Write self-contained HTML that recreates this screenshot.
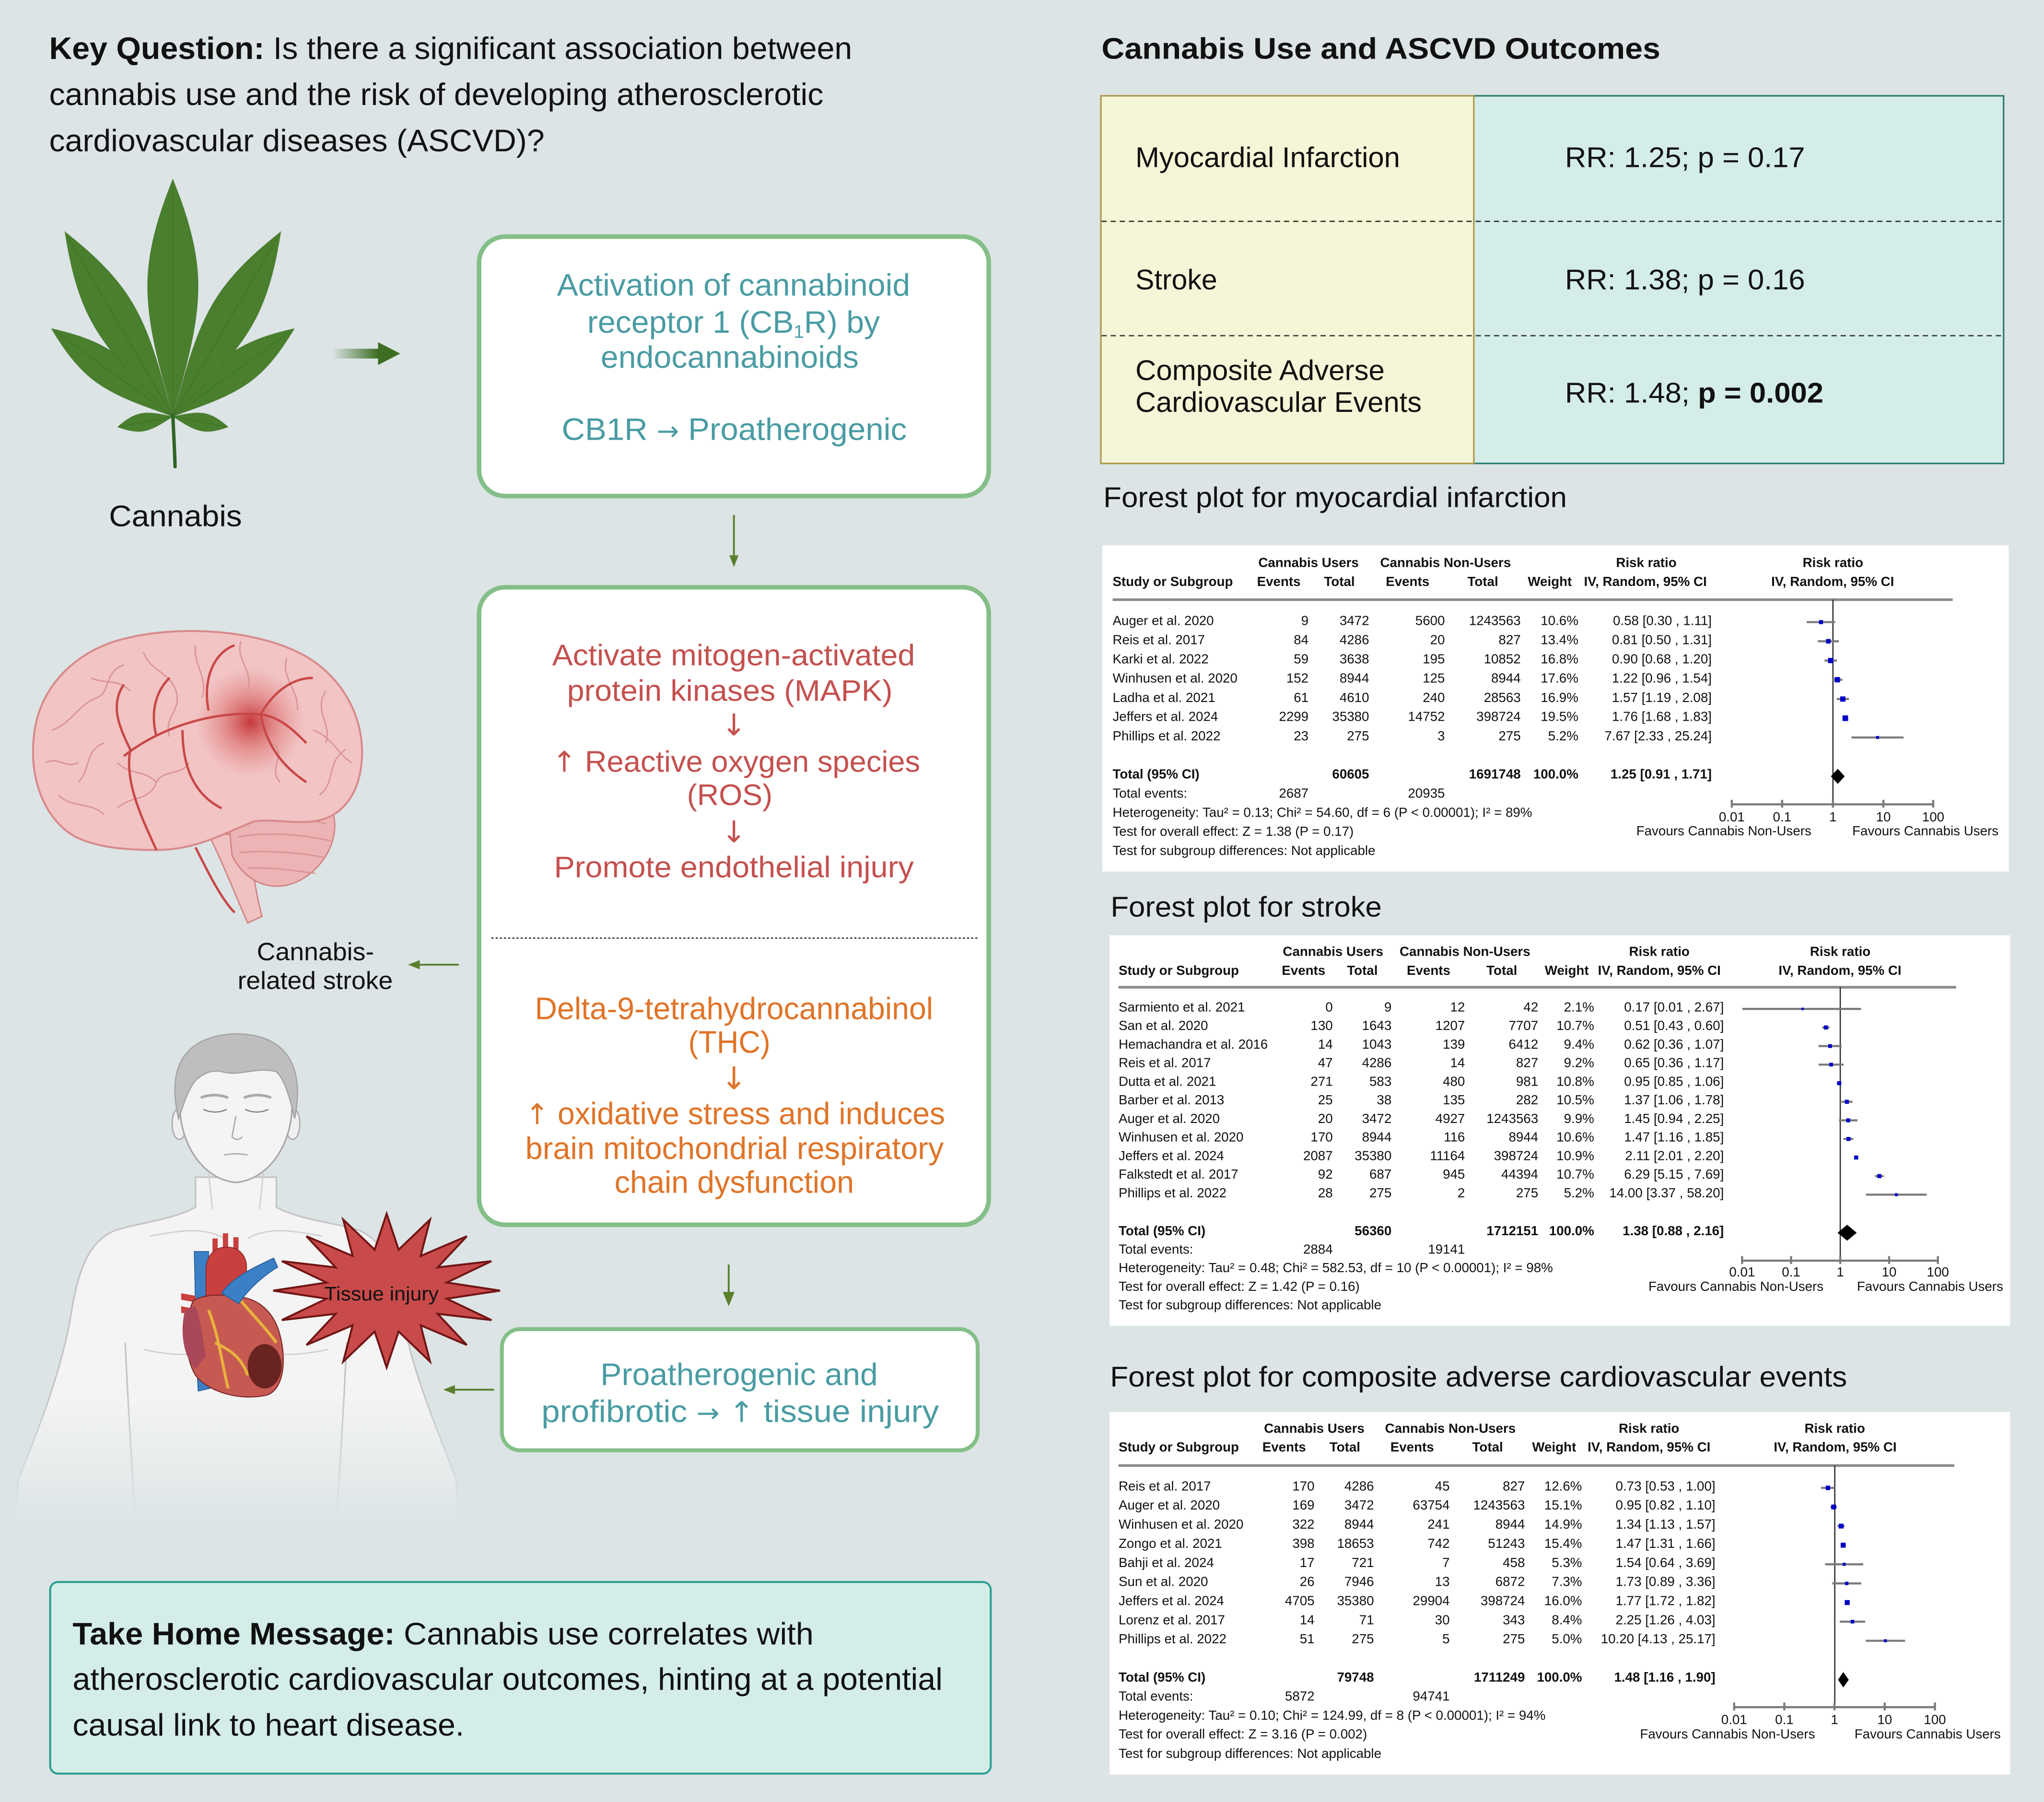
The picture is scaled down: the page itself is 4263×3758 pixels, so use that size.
<!DOCTYPE html>
<html><head><meta charset="utf-8">
<style>
html,body{margin:0;padding:0;background:#dce4e5;width:4263px;height:3758px;overflow:hidden}
svg{display:block;font-family:"Liberation Sans",Arial,sans-serif}
.t{font-size:10.2px;fill:#111}
.b{font-weight:bold}
.r{text-anchor:end}
.c{text-anchor:middle}
.ci{stroke:#7a7a7a;stroke-width:1.6;fill:none}
.sq{fill:#0000c8}
.ax{stroke:#7a7a7a;stroke-width:1.6;fill:none}
.vl{stroke:#222;stroke-width:0.9}
.hl{stroke:#8a8a8a;stroke-width:2}
.tl{fill:#4a9ca3;font-size:24px}
.rd{fill:#c4504e;font-size:23px}
.og{fill:#e07428;font-size:24px}
.gy{stroke:#d99393;stroke-width:1;fill:none}
.vs{stroke:#c84848;stroke-width:1.8;fill:none}
.arr{stroke:#5a7f2c;stroke-width:1.4;fill:none}
.ah{fill:#5a7f2c}
.dj{font-family:"DejaVu Sans",sans-serif}
</style></head>
<body>
<svg width="4263" height="3758" viewBox="0 0 1568 1382.26" preserveAspectRatio="none" xmlns="http://www.w3.org/2000/svg">
<defs>
<radialGradient id="glow" cx="0.5" cy="0.5" r="0.5">
<stop offset="0" stop-color="#c0282a" stop-opacity="0.9"/>
<stop offset="0.5" stop-color="#d45555" stop-opacity="0.45"/>
<stop offset="1" stop-color="#e07070" stop-opacity="0"/>
</radialGradient>
<linearGradient id="arrg" x1="255" y1="0" x2="290" y2="0" gradientUnits="userSpaceOnUse">
<stop offset="0" stop-color="#3d6e22" stop-opacity="0"/>
<stop offset="1" stop-color="#3d6e22"/>
</linearGradient>
<linearGradient id="bodyf" x1="0" y1="1070" x2="0" y2="1172" gradientUnits="userSpaceOnUse">
<stop offset="0" stop-color="#f4f4f4"/>
<stop offset="1" stop-color="#dce4e5"/>
</linearGradient>
<linearGradient id="bodys" x1="0" y1="1060" x2="0" y2="1160" gradientUnits="userSpaceOnUse">
<stop offset="0" stop-color="#c4c4c4"/>
<stop offset="1" stop-color="#dce4e5"/>
</linearGradient>
<g id="lf">
<path d="M0,0 C0.15,-0.15 0.45,-0.35 0.45,-0.55 C0.45,-0.72 0.2,-0.88 0,-1 C-0.2,-0.88 -0.45,-0.72 -0.45,-0.55 C-0.45,-0.35 -0.15,-0.15 0,0 Z" fill="#4a7f2d" stroke="#3a6a22" stroke-width="1.2" stroke-dasharray="2.2,1.2" vector-effect="non-scaling-stroke"/>
<path d="M0,0 L0,-0.97" stroke="#2f6a28" stroke-width="0.9" vector-effect="non-scaling-stroke"/>
</g>
</defs>

<rect x="0" y="0" width="1568" height="1382.26" fill="#dce4e5"/>

<!-- Key question -->
<text x="37.7" y="45.3" font-size="24" fill="#111" textLength="616" lengthAdjust="spacingAndGlyphs"><tspan font-weight="bold">Key Question:</tspan> Is there a significant association between</text>
<text x="37.7" y="80.5" font-size="24" fill="#111" textLength="594" lengthAdjust="spacingAndGlyphs">cannabis use and the risk of developing atherosclerotic</text>
<text x="37.7" y="116" font-size="24" fill="#111" textLength="380" lengthAdjust="spacingAndGlyphs">cardiovascular diseases (ASCVD)?</text>

<!-- Leaf -->
<g>
<path d="M132.6,318 C133,330 134,345 134.3,358" stroke="#2f6325" stroke-width="2.6" fill="none" stroke-linecap="round"/>
<use href="#lf" transform="translate(132.6,319.5) rotate(-100.7) scale(15,43)"/>
<use href="#lf" transform="translate(132.6,319.5) rotate(100.7) scale(15,43)"/>
<use href="#lf" transform="translate(132.6,319.5) rotate(-54.1) scale(29,115)"/>
<use href="#lf" transform="translate(132.6,319.5) rotate(54.1) scale(29,115)"/>
<use href="#lf" transform="translate(132.6,319.5) rotate(-30.3) scale(38,164)"/>
<use href="#lf" transform="translate(132.6,319.5) rotate(30.3) scale(38,164)"/>
<use href="#lf" transform="translate(132.6,319.5) rotate(0) scale(43,182)"/>
</g>
<text x="83.6" y="403.7" font-size="23" fill="#111" textLength="102" lengthAdjust="spacingAndGlyphs">Cannabis</text>

<!-- arrow leaf -> box1 -->
<rect x="255" y="267.5" width="37" height="7.5" fill="url(#arrg)"/>
<polygon points="290,262.5 307,271.2 290,280" fill="#3d6e22"/>

<!-- Box 1 -->
<rect x="367.5" y="181.5" width="391" height="199" rx="20" fill="#fff" stroke="#84bf88" stroke-width="3.5"/>
<text class="tl" x="427.2" y="226.8" textLength="271" lengthAdjust="spacingAndGlyphs">Activation of cannabinoid</text>
<text class="tl" x="450.5" y="255.2" textLength="224.5" lengthAdjust="spacingAndGlyphs">receptor 1 (CB<tspan font-size="14" dy="4">1</tspan><tspan dy="-4">R) by</tspan></text>
<text class="tl" x="460.8" y="282.2" textLength="198" lengthAdjust="spacingAndGlyphs">endocannabinoids</text>
<text class="tl" x="430.9" y="337.5" textLength="264.7" lengthAdjust="spacingAndGlyphs">CB1R <tspan class="dj" font-size="20">→</tspan> Proatherogenic</text>

<!-- arrow down 1 -->
<path class="arr" d="M563,395 V427"/>
<polygon class="ah" points="559.5,426 566.5,426 563,435"/>

<!-- Box 2 -->
<rect x="367.5" y="450.5" width="391" height="489" rx="20" fill="#fff" stroke="#84bf88" stroke-width="3.5"/>
<text class="rd" x="423.6" y="510.4" textLength="278.3" lengthAdjust="spacingAndGlyphs">Activate mitogen-activated</text>
<text class="rd" x="435" y="537.6" textLength="249.7" lengthAdjust="spacingAndGlyphs">protein kinases (MAPK)</text>
<text class="rd c dj" x="563" y="564" font-size="22">↓</text>
<text class="rd" x="423.6" y="592" textLength="282.3" lengthAdjust="spacingAndGlyphs"><tspan class="dj" font-size="22">↑</tspan> Reactive oxygen species</text>
<text class="rd" x="527" y="617.5" textLength="65.6" lengthAdjust="spacingAndGlyphs">(ROS)</text>
<text class="rd c dj" x="563" y="646" font-size="22">↓</text>
<text class="rd" x="425" y="673" textLength="276" lengthAdjust="spacingAndGlyphs">Promote endothelial injury</text>
<path d="M377,719.6 H751" stroke="#333" stroke-width="1" stroke-dasharray="1.6,1.6"/>
<text class="og" x="410.3" y="781.8" textLength="305.5" lengthAdjust="spacingAndGlyphs">Delta-9-tetrahydrocannabinol</text>
<text class="og" x="528" y="807.5" textLength="63" lengthAdjust="spacingAndGlyphs">(THC)</text>
<text class="og c dj" x="563" y="835.5" font-size="22">↓</text>
<text class="og" x="403" y="862.4" textLength="322" lengthAdjust="spacingAndGlyphs"><tspan class="dj" font-size="22">↑</tspan> oxidative stress and induces</text>
<text class="og" x="403" y="889" textLength="321" lengthAdjust="spacingAndGlyphs">brain mitochondrial respiratory</text>
<text class="og" x="471.4" y="915" textLength="183.7" lengthAdjust="spacingAndGlyphs">chain dysfunction</text>

<!-- Brain -->
<g>
<path d="M160,640 C170,660 180,685 190,708 L201,703 C195,680 192,660 196,640 Z" fill="#f0c2c2" stroke="#d08080" stroke-width="1"/>
<path d="M175,625 C190,603 242,600 254,620 C264,642 246,673 220,679 C200,683 185,671 178,656 Z" fill="#ecb4b4" stroke="#d08080" stroke-width="1"/>
<path d="M185,630 C205,626 230,626 250,632 M182,642 C205,638 232,640 254,645 M184,654 C205,652 230,654 250,658 M190,666 C208,665 228,668 242,670" class="gy"/>
<path d="M58,642 C36,630 22,600 26,565 C29,530 55,500 95,490 C135,480 190,482 228,500 C262,516 282,552 277,588 C274,612 260,628 240,630 C225,632 210,628 195,630 C170,640 150,652 120,652 C95,652 75,650 58,642 Z" fill="#f2c4c4" stroke="#d88a8a" stroke-width="1.5"/>
<circle cx="192" cy="554" r="42" fill="url(#glow)"/>
<path class="gy" d="M40,560 C55,555 60,540 75,535 C85,530 80,515 95,510 M60,600 C70,590 65,575 80,570 M110,500 C115,515 130,515 135,530 C140,545 125,550 130,565 M150,495 C148,510 160,520 155,535 M185,492 C180,505 195,515 190,530 M220,505 C215,520 230,530 228,545 M250,530 C240,545 255,555 250,570 M265,575 C250,585 258,600 245,610 M215,600 C205,590 220,580 210,570 M90,620 C100,610 115,615 120,600 C125,590 140,595 145,585 M45,610 C55,620 70,615 80,625 M240,560 C255,565 260,580 270,585 M35,585 C45,580 50,590 60,585 M70,520 C80,525 90,520 100,530 M120,600 C110,590 100,595 90,585"/>
<path class="vs" d="M120,652 C110,630 95,600 100,575 M95,580 C120,560 160,545 200,548 C215,550 225,560 235,570 M100,575 C90,555 85,540 95,525 M160,545 C155,520 165,500 180,495 M200,548 C210,530 225,520 240,520 M140,560 C140,590 150,610 170,620 M150,650 C160,670 170,690 180,700 M120,565 C115,545 120,530 130,520 M200,548 C205,575 220,590 235,600"/>
</g>

<text x="197" y="736.6" font-size="19" fill="#111" textLength="90" lengthAdjust="spacingAndGlyphs">Cannabis-</text>
<text x="182.3" y="758.7" font-size="19" fill="#111" textLength="119" lengthAdjust="spacingAndGlyphs">related stroke</text>
<path class="arr" d="M352,740 H320"/>
<polygon class="ah" points="313,740 322,736.5 322,743.5"/>

<!-- Human -->
<g>
<path d="M150,903 L150,926 C132,936 105,938 88,944 C68,952 60,975 55,1005 C48,1050 30,1095 14,1135 L10,1175 L352,1175 L350,1135 C335,1095 315,1050 308,1005 C303,975 295,952 276,944 C259,938 230,936 212,926 L212,903 Z" fill="url(#bodyf)" stroke="url(#bodys)" stroke-width="1.2"/>
<path d="M96,1030 C98,1070 100,1110 104,1165 M266,1030 C264,1070 262,1110 258,1165" stroke="url(#bodys)" stroke-width="1.2" fill="none"/>
<path d="M115,948 C135,945 155,940 172,950 M190,950 C207,940 227,945 247,948 M110,1035 C130,1040 160,1042 175,1030 M187,1030 C200,1042 230,1040 252,1035 M160,900 L163,928 M202,900 L199,928" stroke="#cfcfcf" stroke-width="1" fill="none"/>
<ellipse cx="137.5" cy="862" rx="5.5" ry="12" fill="#efefef" stroke="#aaa" stroke-width="1"/>
<ellipse cx="224.5" cy="862" rx="5.5" ry="12" fill="#efefef" stroke="#aaa" stroke-width="1"/>
<path d="M138,850 C137,820 155,800 181,800 C207,800 225,820 224,850 C223,880 205,905 181,907 C157,905 139,880 138,850 Z" fill="#f4f4f4" stroke="#a8a8a8" stroke-width="1.2"/>
<path d="M137,858 C128,820 140,795 180,793 C220,793 234,818 226,858 C222,840 218,828 212,822 C195,818 185,826 170,822 C160,820 150,826 146,835 C142,842 140,850 137,858 Z" fill="#bebebe" stroke="#a5a5a5" stroke-width="1"/>
<path d="M156,851 Q165,855 174,851 M188,851 Q197,855 206,851" stroke="#888" stroke-width="1" fill="none"/>
<path d="M154,842 Q164,838 175,842 M187,842 Q198,838 208,842" stroke="#aaa" stroke-width="2" fill="none"/>
<path d="M181,856 L178,872 Q182,876 186,872 M172,886 Q181,884 190,886" stroke="#aaa" stroke-width="1" fill="none"/>
</g>

<!-- Starburst -->
<polygon points="296.6,931 305.8,958.6 329.9,935.5 322.7,963.4 358.1,948.3 335.7,972.2 377,967.4 342.7,983.8 383.6,990 342.7,996.2 377,1012.6 335.7,1007.8 358.1,1031.7 322.7,1016.6 329.9,1044.5 305.8,1021.4 296.6,1049 287.4,1021.4 263.3,1044.5 270.5,1016.6 235.1,1031.7 257.5,1007.8 216.2,1012.6 250.5,996.2 209.6,990 250.5,983.8 216.2,967.4 257.5,972.2 235.1,948.3 270.5,963.4 263.3,935.5 287.4,958.6" fill="#c94a4a" stroke="#701515" stroke-width="1.5" stroke-linejoin="miter"/>

<!-- Heart -->
<g>
<path d="M149,960 L160,960 L161,1065 L152,1067 C150,1030 150,995 149,960 Z" fill="#3b7fc4" stroke="#1f5a95" stroke-width="0.6"/>
<rect x="163" y="950" width="4" height="12" fill="#c9403f"/>
<rect x="171" y="946" width="4" height="14" fill="#c9403f"/>
<rect x="179" y="949" width="4" height="12" fill="#c9403f"/>
<path d="M158,1000 L158,975 C158,960 168,955 178,957 C186,959 190,966 189,975 L183,995 Z" fill="#c9403f" stroke="#8a2323" stroke-width="0.6"/>
<path d="M139,992 L150,994 L150,999 L139,997 Z M139,1002 L150,1004 L150,1009 L139,1007 Z" fill="#c9403f"/>
<path d="M148,998 C141,1015 141,1040 150,1055 C160,1068 185,1075 205,1070 C217,1066 220,1045 215,1025 C211,1008 200,997 185,995 C172,993 157,992 148,998 Z" fill="#c65a52" stroke="#7a2525" stroke-width="0.8"/>
<path d="M142,1005 C138,1020 140,1040 150,1050 L158,1040 C155,1025 154,1012 150,1002 Z" fill="#a84858"/>
<ellipse cx="203" cy="1048" rx="13" ry="17" fill="#4a1212" opacity="0.75"/>
<path d="M160,1005 C168,1025 170,1045 175,1065 M185,998 C195,1010 205,1020 212,1030 M165,1030 C175,1035 185,1040 190,1055" stroke="#e8b23c" stroke-width="2.2" fill="none"/>
<path d="M170,992 C178,980 195,972 210,965 L213,972 C200,980 190,990 183,1000 Z" fill="#3b7fc4" stroke="#1f5a95" stroke-width="0.6"/>
</g>
<text x="248.8" y="997.5" font-size="15" fill="#111" textLength="87.7" lengthAdjust="spacingAndGlyphs">Tissue injury</text>

<!-- arrow down 2 -->
<path class="arr" d="M559,970 V993"/>
<polygon class="ah" points="554.5,991 563.5,991 559,1002"/>

<!-- Box 4 -->
<rect x="385" y="1019.5" width="365" height="93" rx="14" fill="#fff" stroke="#84bf88" stroke-width="3"/>
<text class="tl" x="460.6" y="1062.4" textLength="212.8" lengthAdjust="spacingAndGlyphs">Proatherogenic and</text>
<text class="tl" x="415.3" y="1090.7" textLength="305" lengthAdjust="spacingAndGlyphs">profibrotic  <tspan class="dj" font-size="20">→</tspan> <tspan class="dj" font-size="22">↑</tspan> tissue injury</text>
<path class="arr" d="M379,1066 H347"/>
<polygon class="ah" points="340,1066 349,1062.5 349,1069.5"/>

<!-- Take home -->
<rect x="38.5" y="1213.5" width="721.5" height="147" rx="6" fill="#d4ede9" stroke="#2a9d92" stroke-width="1.5"/>
<text x="55.7" y="1261.5" font-size="24" fill="#111" textLength="568.4" lengthAdjust="spacingAndGlyphs"><tspan font-weight="bold">Take Home Message:</tspan> Cannabis use correlates with</text>
<text x="55.7" y="1296.2" font-size="24" fill="#111" textLength="667.4" lengthAdjust="spacingAndGlyphs">atherosclerotic cardiovascular outcomes, hinting at a potential</text>
<text x="55.7" y="1331.3" font-size="24" fill="#111" textLength="300.4" lengthAdjust="spacingAndGlyphs">causal link to heart disease.</text>

<!-- Right: table -->
<text x="845" y="45" font-size="23" font-weight="bold" fill="#111" textLength="428.7" lengthAdjust="spacingAndGlyphs">Cannabis Use and ASCVD Outcomes</text>
<rect x="1130.6" y="73.5" width="406.4" height="282" fill="#d4ede9" stroke="#2e7a70" stroke-width="1.2"/>
<rect x="844.5" y="73.5" width="286.1" height="282" fill="#f5f5d7" stroke="#b09a4a" stroke-width="1.2"/>
<path d="M845,169.8 H1537 M845,257.5 H1537" stroke="#333" stroke-width="1" stroke-dasharray="4,3"/>
<text x="871" y="128.2" font-size="22" fill="#111" textLength="203" lengthAdjust="spacingAndGlyphs">Myocardial Infarction</text>
<text x="1200.5" y="128.2" font-size="22" fill="#111" textLength="184.2" lengthAdjust="spacingAndGlyphs">RR: 1.25; p = 0.17</text>
<text x="871" y="221.9" font-size="22" fill="#111" textLength="62.8" lengthAdjust="spacingAndGlyphs">Stroke</text>
<text x="1200.5" y="221.9" font-size="22" fill="#111" textLength="184.2" lengthAdjust="spacingAndGlyphs">RR: 1.38; p = 0.16</text>
<text x="871" y="291.5" font-size="22" fill="#111" textLength="191.2" lengthAdjust="spacingAndGlyphs">Composite Adverse</text>
<text x="871" y="316" font-size="22" fill="#111" textLength="219.6" lengthAdjust="spacingAndGlyphs">Cardiovascular Events</text>
<text x="1200.5" y="308.8" font-size="22" fill="#111" textLength="198.3" lengthAdjust="spacingAndGlyphs">RR: 1.48; <tspan font-weight="bold">p = 0.002</tspan></text>

<!-- Forest plot 1 -->
<text x="846.4" y="389" font-size="22" fill="#111" textLength="355.6" lengthAdjust="spacingAndGlyphs">Forest plot for myocardial infarction</text>
<rect x="845.6" y="418.3" width="695.4" height="250.2" fill="#fff"/>
<g class="t b">
<text class="c" x="1003.8" y="434.9">Cannabis Users</text>
<text class="c" x="1108.9" y="434.9">Cannabis Non-Users</text>
<text class="c" x="1262.9" y="434.9">Risk ratio</text>
<text class="c" x="1406.1" y="434.9">Risk ratio</text>
<text x="853.5" y="449.5">Study or Subgroup</text>
<text class="c" x="981" y="449.5">Events</text>
<text class="c" x="1027.5" y="449.5">Total</text>
<text class="c" x="1079.8" y="449.5">Events</text>
<text class="c" x="1137.5" y="449.5">Total</text>
<text class="c" x="1188.9" y="449.5">Weight</text>
<text class="c" x="1262.2" y="449.5">IV, Random, 95% CI</text>
<text class="c" x="1405.9" y="449.5">IV, Random, 95% CI</text>
</g>
<path class="hl" d="M853.5,460 H1498"/>
<path class="vl" d="M1406.1,460 V617"/>
<g class="t">
<g transform="translate(0,479.4)"><text x="853.5">Auger et al. 2020</text><text class="r" x="1003.8">9</text><text class="r" x="1050.3">3472</text><text class="r" x="1108.4">5600</text><text class="r" x="1166.6">1243563</text><text class="r" x="1210.8">10.6%</text><text class="r" x="1313.1">0.58 [0.30 , 1.11]</text></g>
<g transform="translate(0,494.1)"><text x="853.5">Reis et al. 2017</text><text class="r" x="1003.8">84</text><text class="r" x="1050.3">4286</text><text class="r" x="1108.4">20</text><text class="r" x="1166.6">827</text><text class="r" x="1210.8">13.4%</text><text class="r" x="1313.1">0.81 [0.50 , 1.31]</text></g>
<g transform="translate(0,508.9)"><text x="853.5">Karki et al. 2022</text><text class="r" x="1003.8">59</text><text class="r" x="1050.3">3638</text><text class="r" x="1108.4">195</text><text class="r" x="1166.6">10852</text><text class="r" x="1210.8">16.8%</text><text class="r" x="1313.1">0.90 [0.68 , 1.20]</text></g>
<g transform="translate(0,523.6)"><text x="853.5">Winhusen et al. 2020</text><text class="r" x="1003.8">152</text><text class="r" x="1050.3">8944</text><text class="r" x="1108.4">125</text><text class="r" x="1166.6">8944</text><text class="r" x="1210.8">17.6%</text><text class="r" x="1313.1">1.22 [0.96 , 1.54]</text></g>
<g transform="translate(0,538.4)"><text x="853.5">Ladha et al. 2021</text><text class="r" x="1003.8">61</text><text class="r" x="1050.3">4610</text><text class="r" x="1108.4">240</text><text class="r" x="1166.6">28563</text><text class="r" x="1210.8">16.9%</text><text class="r" x="1313.1">1.57 [1.19 , 2.08]</text></g>
<g transform="translate(0,553.1)"><text x="853.5">Jeffers et al. 2024</text><text class="r" x="1003.8">2299</text><text class="r" x="1050.3">35380</text><text class="r" x="1108.4">14752</text><text class="r" x="1166.6">398724</text><text class="r" x="1210.8">19.5%</text><text class="r" x="1313.1">1.76 [1.68 , 1.83]</text></g>
<g transform="translate(0,567.9)"><text x="853.5">Phillips et al. 2022</text><text class="r" x="1003.8">23</text><text class="r" x="1050.3">275</text><text class="r" x="1108.4">3</text><text class="r" x="1166.6">275</text><text class="r" x="1210.8">5.2%</text><text class="r" x="1313.1">7.67 [2.33 , 25.24]</text></g>
<g transform="translate(0,597.2)" class="b"><text x="853.5">Total (95% CI)</text><text class="r" x="1050.3">60605</text><text class="r" x="1166.6">1691748</text><text class="r" x="1210.8">100.0%</text><text class="r" x="1313.1">1.25 [0.91 , 1.71]</text></g>
<g transform="translate(0,611.8)"><text x="853.5">Total events:</text><text class="r" x="1003.8">2687</text><text class="r" x="1108.4">20935</text></g>
<text x="853.5" y="626.6">Heterogeneity: Tau² = 0.13; Chi² = 54.60, df = 6 (P &lt; 0.00001); I² = 89%</text>
<text x="853.5" y="641.2">Test for overall effect: Z = 1.38 (P = 0.17)</text>
<text x="853.5" y="655.8">Test for subgroup differences: Not applicable</text>
<text class="c" x="1328.5" y="630">0.01</text><text class="c" x="1367.1" y="630">0.1</text><text class="c" x="1406.1" y="630">1</text><text class="c" x="1444.8" y="630">10</text><text class="c" x="1483" y="630">100</text>
<text class="c" x="1322.4" y="640.7">Favours Cannabis Non-Users</text>
<text class="c" x="1477" y="640.7">Favours Cannabis Users</text>
</g>
<path class="ci" d="M1385.9,477.2H1407.85 M1394.47,491.9H1410.63 M1399.63,506.7H1409.16 M1405.42,521.4H1413.35 M1409.02,536.2H1418.39 M1414.81,550.9H1416.25 M1420.3,565.7H1460.3"/>
<g class="sq">
<rect x="1395.4" y="475.65" width="3.1" height="3.1"/>
<rect x="1400.81" y="490.15" width="3.5" height="3.5"/>
<rect x="1402.33" y="504.7" width="4" height="4"/>
<rect x="1407.39" y="519.35" width="4.1" height="4.1"/>
<rect x="1411.67" y="534.2" width="4" height="4"/>
<rect x="1413.44" y="548.75" width="4.3" height="4.3"/>
<rect x="1439.15" y="564.55" width="2.3" height="2.3"/>
</g>
<path d="M1404.5,595.5 L1409.8,589.7 L1415.1,595.5 L1409.8,601.3 Z" fill="#000"/>
<path class="ax" d="M1328.5,617 H1483 M1328.5,613.5 V619.5 M1367.1,613.5 V619.5 M1406.1,613.5 V619.5 M1444.8,613.5 V619.5 M1483,613.5 V619.5"/>

<!-- Forest plot 2 -->
<text x="852" y="703" font-size="22" fill="#111" textLength="208" lengthAdjust="spacingAndGlyphs">Forest plot for stroke</text>
<rect x="851.2" y="717.4" width="690.8" height="299.6" fill="#fff"/>
<g class="t b">
<text class="c" x="1022.6" y="733.2">Cannabis Users</text>
<text class="c" x="1123.8" y="733.2">Cannabis Non-Users</text>
<text class="c" x="1272.9" y="733.2">Risk ratio</text>
<text class="c" x="1411.7" y="733.2">Risk ratio</text>
<text x="858.1" y="747.8">Study or Subgroup</text>
<text class="c" x="1000" y="747.8">Events</text>
<text class="c" x="1045.1" y="747.8">Total</text>
<text class="c" x="1095.9" y="747.8">Events</text>
<text class="c" x="1152.1" y="747.8">Total</text>
<text class="c" x="1201.9" y="747.8">Weight</text>
<text class="c" x="1272.9" y="747.8">IV, Random, 95% CI</text>
<text class="c" x="1411.5" y="747.8">IV, Random, 95% CI</text>
</g>
<path class="hl" d="M858,757.3 H1500.6"/>
<path class="vl" d="M1411.7,757.3 V967"/>
<g class="t">
<g transform="translate(0,775.9)"><text x="858.1">Sarmiento et al. 2021</text><text class="r" x="1022.4">0</text><text class="r" x="1067.5">9</text><text class="r" x="1123.8">12</text><text class="r" x="1180">42</text><text class="r" x="1222.9">2.1%</text><text class="r" x="1322.4">0.17 [0.01 , 2.67]</text></g>
<g transform="translate(0,790.15)"><text x="858.1">San et al. 2020</text><text class="r" x="1022.4">130</text><text class="r" x="1067.5">1643</text><text class="r" x="1123.8">1207</text><text class="r" x="1180">7707</text><text class="r" x="1222.9">10.7%</text><text class="r" x="1322.4">0.51 [0.43 , 0.60]</text></g>
<g transform="translate(0,804.4)"><text x="858.1">Hemachandra et al. 2016</text><text class="r" x="1022.4">14</text><text class="r" x="1067.5">1043</text><text class="r" x="1123.8">139</text><text class="r" x="1180">6412</text><text class="r" x="1222.9">9.4%</text><text class="r" x="1322.4">0.62 [0.36 , 1.07]</text></g>
<g transform="translate(0,818.65)"><text x="858.1">Reis et al. 2017</text><text class="r" x="1022.4">47</text><text class="r" x="1067.5">4286</text><text class="r" x="1123.8">14</text><text class="r" x="1180">827</text><text class="r" x="1222.9">9.2%</text><text class="r" x="1322.4">0.65 [0.36 , 1.17]</text></g>
<g transform="translate(0,832.9)"><text x="858.1">Dutta et al. 2021</text><text class="r" x="1022.4">271</text><text class="r" x="1067.5">583</text><text class="r" x="1123.8">480</text><text class="r" x="1180">981</text><text class="r" x="1222.9">10.8%</text><text class="r" x="1322.4">0.95 [0.85 , 1.06]</text></g>
<g transform="translate(0,847.15)"><text x="858.1">Barber et al. 2013</text><text class="r" x="1022.4">25</text><text class="r" x="1067.5">38</text><text class="r" x="1123.8">135</text><text class="r" x="1180">282</text><text class="r" x="1222.9">10.5%</text><text class="r" x="1322.4">1.37 [1.06 , 1.78]</text></g>
<g transform="translate(0,861.4)"><text x="858.1">Auger et al. 2020</text><text class="r" x="1022.4">20</text><text class="r" x="1067.5">3472</text><text class="r" x="1123.8">4927</text><text class="r" x="1180">1243563</text><text class="r" x="1222.9">9.9%</text><text class="r" x="1322.4">1.45 [0.94 , 2.25]</text></g>
<g transform="translate(0,875.65)"><text x="858.1">Winhusen et al. 2020</text><text class="r" x="1022.4">170</text><text class="r" x="1067.5">8944</text><text class="r" x="1123.8">116</text><text class="r" x="1180">8944</text><text class="r" x="1222.9">10.6%</text><text class="r" x="1322.4">1.47 [1.16 , 1.85]</text></g>
<g transform="translate(0,889.9)"><text x="858.1">Jeffers et al. 2024</text><text class="r" x="1022.4">2087</text><text class="r" x="1067.5">35380</text><text class="r" x="1123.8">11164</text><text class="r" x="1180">398724</text><text class="r" x="1222.9">10.9%</text><text class="r" x="1322.4">2.11 [2.01 , 2.20]</text></g>
<g transform="translate(0,904.15)"><text x="858.1">Falkstedt et al. 2017</text><text class="r" x="1022.4">92</text><text class="r" x="1067.5">687</text><text class="r" x="1123.8">945</text><text class="r" x="1180">44394</text><text class="r" x="1222.9">10.7%</text><text class="r" x="1322.4">6.29 [5.15 , 7.69]</text></g>
<g transform="translate(0,918.4)"><text x="858.1">Phillips et al. 2022</text><text class="r" x="1022.4">28</text><text class="r" x="1067.5">275</text><text class="r" x="1123.8">2</text><text class="r" x="1180">275</text><text class="r" x="1222.9">5.2%</text><text class="r" x="1322.4">14.00 [3.37 , 58.20]</text></g>
<g transform="translate(0,947.5)" class="b"><text x="858.1">Total (95% CI)</text><text class="r" x="1067.5">56360</text><text class="r" x="1180">1712151</text><text class="r" x="1222.9">100.0%</text><text class="r" x="1322.4">1.38 [0.88 , 2.16]</text></g>
<g transform="translate(0,961.6)"><text x="858.1">Total events:</text><text class="r" x="1022.4">2884</text><text class="r" x="1123.8">19141</text></g>
<text x="858.1" y="975.8">Heterogeneity: Tau² = 0.48; Chi² = 582.53, df = 10 (P &lt; 0.00001); I² = 98%</text>
<text x="858.1" y="990.1">Test for overall effect: Z = 1.42 (P = 0.16)</text>
<text x="858.1" y="1004.3">Test for subgroup differences: Not applicable</text>
<text class="c" x="1336.4" y="979.1">0.01</text><text class="c" x="1374" y="979.1">0.1</text><text class="c" x="1411.7" y="979.1">1</text><text class="c" x="1449.2" y="979.1">10</text><text class="c" x="1486.6" y="979.1">100</text>
<text class="c" x="1331.7" y="990.1">Favours Cannabis Non-Users</text>
<text class="c" x="1480.6" y="990.1">Favours Cannabis Users</text>
</g>
<path class="ci" d="M1336.6,773.9H1427.7 M1397.9,788.15H1403.4 M1395,802.4H1412.8 M1395,816.65H1414.3 M1409.05,830.9H1412.65 M1412.65,845.15H1421.1 M1410.7,859.4H1424.9 M1414.1,873.65H1421.7 M1423.1,887.9H1424.6 M1438.4,902.15H1445 M1431.5,916.4H1478"/>
<g class="sq">
<rect x="1381.85" y="772.95" width="1.9" height="1.9"/>
<rect x="1399.15" y="786.6" width="3.1" height="3.1"/>
<rect x="1402.45" y="800.95" width="2.9" height="2.9"/>
<rect x="1403.25" y="815.2" width="2.9" height="2.9"/>
<rect x="1409.35" y="829.35" width="3.1" height="3.1"/>
<rect x="1415.25" y="843.6" width="3.1" height="3.1"/>
<rect x="1416.3" y="857.9" width="3" height="3"/>
<rect x="1416.45" y="872.1" width="3.1" height="3.1"/>
<rect x="1422.35" y="886.35" width="3.1" height="3.1"/>
<rect x="1440.15" y="900.6" width="3.1" height="3.1"/>
<rect x="1453.55" y="915.25" width="2.3" height="2.3"/>
</g>
<path d="M1409.6,945.6 L1417,939.5 L1424.3,945.6 L1417,951.7 Z" fill="#000"/>
<path class="ax" d="M1336.4,967 H1486.6 M1336.4,963.5 V969.5 M1374,963.5 V969.5 M1411.7,963.5 V969.5 M1449.2,963.5 V969.5 M1486.6,963.5 V969.5"/>

<!-- Forest plot 3 -->
<text x="851.6" y="1063.5" font-size="22" fill="#111" textLength="565.3" lengthAdjust="spacingAndGlyphs">Forest plot for composite adverse cardiovascular events</text>
<rect x="851.2" y="1083" width="690.8" height="278.2" fill="#fff"/>
<g class="t b">
<text class="c" x="1008.2" y="1099">Cannabis Users</text>
<text class="c" x="1112.6" y="1099">Cannabis Non-Users</text>
<text class="c" x="1265" y="1099">Risk ratio</text>
<text class="c" x="1407.5" y="1099">Risk ratio</text>
<text x="858.1" y="1113.4">Study or Subgroup</text>
<text class="c" x="985.1" y="1113.4">Events</text>
<text class="c" x="1031.7" y="1113.4">Total</text>
<text class="c" x="1083.3" y="1113.4">Events</text>
<text class="c" x="1141.2" y="1113.4">Total</text>
<text class="c" x="1192.2" y="1113.4">Weight</text>
<text class="c" x="1265" y="1113.4">IV, Random, 95% CI</text>
<text class="c" x="1407.8" y="1113.4">IV, Random, 95% CI</text>
</g>
<path class="hl" d="M858,1124.2 H1499.2"/>
<path class="vl" d="M1407.5,1124.2 V1309.5"/>
<g class="t">
<g transform="translate(0,1143.3)"><text x="858.1">Reis et al. 2017</text><text class="r" x="1008.4">170</text><text class="r" x="1054">4286</text><text class="r" x="1112.1">45</text><text class="r" x="1169.8">827</text><text class="r" x="1213.6">12.6%</text><text class="r" x="1315.9">0.73 [0.53 , 1.00]</text></g>
<g transform="translate(0,1157.96)"><text x="858.1">Auger et al. 2020</text><text class="r" x="1008.4">169</text><text class="r" x="1054">3472</text><text class="r" x="1112.1">63754</text><text class="r" x="1169.8">1243563</text><text class="r" x="1213.6">15.1%</text><text class="r" x="1315.9">0.95 [0.82 , 1.10]</text></g>
<g transform="translate(0,1172.62)"><text x="858.1">Winhusen et al. 2020</text><text class="r" x="1008.4">322</text><text class="r" x="1054">8944</text><text class="r" x="1112.1">241</text><text class="r" x="1169.8">8944</text><text class="r" x="1213.6">14.9%</text><text class="r" x="1315.9">1.34 [1.13 , 1.57]</text></g>
<g transform="translate(0,1187.28)"><text x="858.1">Zongo et al. 2021</text><text class="r" x="1008.4">398</text><text class="r" x="1054">18653</text><text class="r" x="1112.1">742</text><text class="r" x="1169.8">51243</text><text class="r" x="1213.6">15.4%</text><text class="r" x="1315.9">1.47 [1.31 , 1.66]</text></g>
<g transform="translate(0,1201.94)"><text x="858.1">Bahji et al. 2024</text><text class="r" x="1008.4">17</text><text class="r" x="1054">721</text><text class="r" x="1112.1">7</text><text class="r" x="1169.8">458</text><text class="r" x="1213.6">5.3%</text><text class="r" x="1315.9">1.54 [0.64 , 3.69]</text></g>
<g transform="translate(0,1216.6)"><text x="858.1">Sun et al. 2020</text><text class="r" x="1008.4">26</text><text class="r" x="1054">7946</text><text class="r" x="1112.1">13</text><text class="r" x="1169.8">6872</text><text class="r" x="1213.6">7.3%</text><text class="r" x="1315.9">1.73 [0.89 , 3.36]</text></g>
<g transform="translate(0,1231.26)"><text x="858.1">Jeffers et al. 2024</text><text class="r" x="1008.4">4705</text><text class="r" x="1054">35380</text><text class="r" x="1112.1">29904</text><text class="r" x="1169.8">398724</text><text class="r" x="1213.6">16.0%</text><text class="r" x="1315.9">1.77 [1.72 , 1.82]</text></g>
<g transform="translate(0,1245.92)"><text x="858.1">Lorenz et al. 2017</text><text class="r" x="1008.4">14</text><text class="r" x="1054">71</text><text class="r" x="1112.1">30</text><text class="r" x="1169.8">343</text><text class="r" x="1213.6">8.4%</text><text class="r" x="1315.9">2.25 [1.26 , 4.03]</text></g>
<g transform="translate(0,1260.58)"><text x="858.1">Phillips et al. 2022</text><text class="r" x="1008.4">51</text><text class="r" x="1054">275</text><text class="r" x="1112.1">5</text><text class="r" x="1169.8">275</text><text class="r" x="1213.6">5.0%</text><text class="r" x="1315.9">10.20 [4.13 , 25.17]</text></g>
<g transform="translate(0,1290)" class="b"><text x="858.1">Total (95% CI)</text><text class="r" x="1054">79748</text><text class="r" x="1169.8">1711249</text><text class="r" x="1213.6">100.0%</text><text class="r" x="1315.9">1.48 [1.16 , 1.90]</text></g>
<g transform="translate(0,1304.4)"><text x="858.1">Total events:</text><text class="r" x="1008.4">5872</text><text class="r" x="1112.1">94741</text></g>
<text x="858.1" y="1319.2">Heterogeneity: Tau² = 0.10; Chi² = 124.99, df = 8 (P &lt; 0.00001); I² = 94%</text>
<text x="858.1" y="1333.6">Test for overall effect: Z = 3.16 (P = 0.002)</text>
<text x="858.1" y="1348.4">Test for subgroup differences: Not applicable</text>
<text class="c" x="1330.3" y="1322.4">0.01</text><text class="c" x="1368.8" y="1322.4">0.1</text><text class="c" x="1407.3" y="1322.4">1</text><text class="c" x="1445.8" y="1322.4">10</text><text class="c" x="1484.3" y="1322.4">100</text>
<text class="c" x="1325.2" y="1333.6">Favours Cannabis Non-Users</text>
<text class="c" x="1478.7" y="1333.6">Favours Cannabis Users</text>
</g>
<path class="ci" d="M1396.9,1141.3H1407.5 M1404.18,1155.96H1409.09 M1409.54,1170.62H1415.04 M1412.02,1185.28H1415.97 M1400.04,1199.94H1429.33 M1405.55,1214.6H1427.76 M1416.57,1229.26H1417.51 M1411.37,1243.92H1430.8 M1431.22,1258.58H1461.43"/>
<g class="sq">
<rect x="1400.54" y="1139.6" width="3.4" height="3.4"/>
<rect x="1404.79" y="1154.11" width="3.7" height="3.7"/>
<rect x="1410.54" y="1168.77" width="3.7" height="3.7"/>
<rect x="1412.04" y="1183.38" width="3.8" height="3.8"/>
<rect x="1413.57" y="1198.79" width="2.3" height="2.3"/>
<rect x="1415.36" y="1213.3" width="2.6" height="2.6"/>
<rect x="1415.15" y="1227.36" width="3.8" height="3.8"/>
<rect x="1419.66" y="1242.52" width="2.8" height="2.8"/>
<rect x="1445.18" y="1257.43" width="2.3" height="2.3"/>
</g>
<path d="M1409.98,1288.5 L1414.06,1282.6 L1418.23,1288.5 L1414.06,1294.4 Z" fill="#000"/>
<path class="ax" d="M1330.3,1309.5 H1484.3 M1330.3,1306 V1312 M1368.8,1306 V1312 M1407.3,1306 V1312 M1445.8,1306 V1312 M1484.3,1306 V1312"/>
</svg>
</body></html>
